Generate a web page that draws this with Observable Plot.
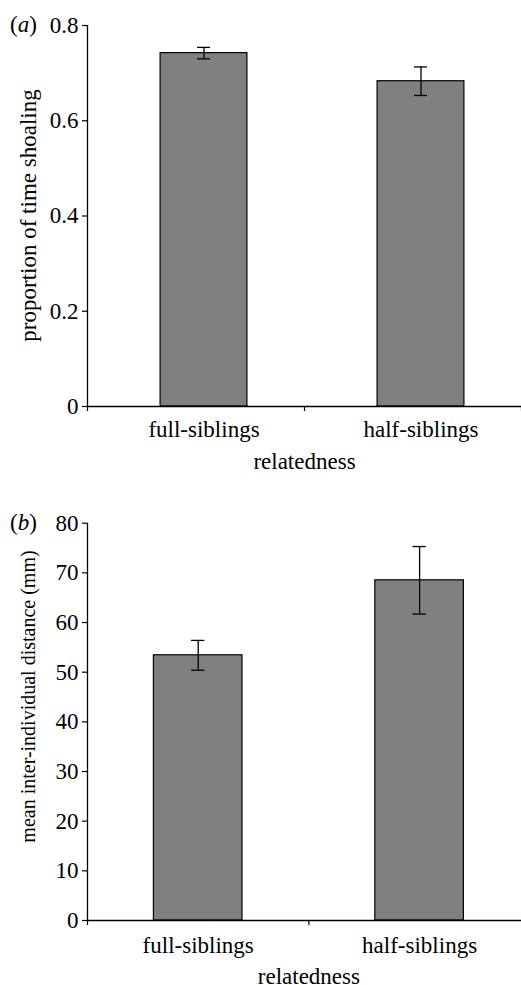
<!DOCTYPE html>
<html><head><meta charset="utf-8">
<script src="https://cdn.jsdelivr.net/npm/d3@7"></script>
<script src="https://cdn.jsdelivr.net/npm/@observablehq/plot@0.6"></script>
<style>
body{margin:0;background:#fff;}
#chart svg{display:block;}
#chart svg text{font-family:'Liberation Serif','Times New Roman',serif;}
</style></head><body><div id="chart"></div>
<script>
const categories = ["full-siblings", "half-siblings"];
const shoalMean = [0.742, 0.683];
const shoalSE = [0.012, 0.030];
const shoalTicks = [0, 0.2, 0.4, 0.6, 0.8];
const distMean = [53.4, 68.5];
const distSE = [3.0, 6.8];
const distTicks = [0, 10, 20, 30, 40, 50, 60, 70, 80];
const xLabel = "relatedness";

const font = "Liberation Serif";
const fs = 23;

function panel(o) {
  const rows = categories.map((c, i) => ({c, i, m: o.means[i], lo: o.means[i] - o.ses[i], hi: o.means[i] + o.ses[i]}));
  const ymax = o.ticks[o.ticks.length - 1];
  const cap = 0.03;
  const svg = Plot.plot({
    width: 521, height: o.height, marginTop: o.marginTop, marginBottom: o.marginBottom,
    marginLeft: 87, marginRight: 0,
    style: {fontFamily: font, fontSize: fs + "px", background: "white", color: "black", overflow: "visible"},
    x: {type: "linear", domain: [0, categories.length], range: o.xRange, axis: null},
    y: {domain: [0, ymax], axis: null},
    marks: [
      Plot.rectY(rows, {x1: d => d.i + 0.3, x2: d => d.i + 0.7, y1: 0, y2: "m", fill: "#808080", stroke: "#000", strokeWidth: 1.2, dx: o.shift}),
      Plot.ruleX(rows, {x: d => d.i + 0.5, y1: "lo", y2: "hi", stroke: "#000", strokeWidth: 1.3, dx: o.shift}),
      Plot.ruleY(rows, {y: "hi", x1: d => d.i + 0.5 - cap, x2: d => d.i + 0.5 + cap, stroke: "#000", strokeWidth: 1.3, dx: o.shift}),
      Plot.ruleY(rows, {y: "lo", x1: d => d.i + 0.5 - cap, x2: d => d.i + 0.5 + cap, stroke: "#000", strokeWidth: 1.3, dx: o.shift}),
      Plot.ruleY([0], {stroke: "#000", strokeWidth: 1.3}),
      Plot.ruleX([0], {y1: 0, y2: ymax, stroke: "#000", strokeWidth: 1.3}),
      Plot.axisY({ticks: o.ticks, tickSize: 5, tickPadding: 4, tickFormat: d => String(d), fontSize: fs, fontFamily: font, strokeWidth: 1.2}),
      Plot.axisX({ticks: d3.range(categories.length + 1), tickSize: 5, tickFormat: () => "", strokeWidth: 1.2}),
      Plot.text(categories, {x: (d, i) => i + 0.5, frameAnchor: "bottom", lineAnchor: "top", dy: o.tickLabelDy, dx: o.shift, fontSize: fs, fontFamily: font}),
      Plot.text([xLabel], {x: categories.length / 2, frameAnchor: "bottom", lineAnchor: "top", dy: o.xLabelDy, fontSize: fs, fontFamily: font})
    ]
  });
  const y = svg.scale("y");
  d3.select(svg).append("text")
    .attr("transform", `translate(29,${y.apply(o.ylabelAt)}) rotate(-90)`)
    .attr("text-anchor", "middle").attr("dy", "0.32em")
    .attr("font-size", o.ylabelSize).attr("font-family", font).attr("fill", "black")
    .text(o.ylabel);
  d3.select(svg).append("text")
    .attr("x", 10).attr("y", y.apply(ymax)).attr("dy", "0.32em")
    .attr("text-anchor", "start")
    .attr("font-size", fs).attr("font-family", font).attr("fill", "black")
    .html(`(<tspan font-style="italic">${o.tag}</tspan>)`);
  return svg;
}

const root = document.getElementById("chart");
root.appendChild(panel({
  tag: "a", means: shoalMean, ses: shoalSE, ticks: shoalTicks,
  ylabel: "proportion of time shoaling", ylabelSize: 23, ylabelAt: 0.4,
  height: 470, marginTop: 25, marginBottom: 64, xRange: [87, 521], shift: 8,
  tickLabelDy: 14, xLabelDy: 46
}));
root.appendChild(panel({
  tag: "b", means: distMean, ses: distSE, ticks: distTicks,
  ylabel: "mean inter-individual distance (mm)", ylabelSize: 20, ylabelAt: 45,
  height: 515, marginTop: 52.7, marginBottom: 65, xRange: [87, 529.8], shift: 0,
  tickLabelDy: 16.5, xLabelDy: 47
}));
</script></body></html>
